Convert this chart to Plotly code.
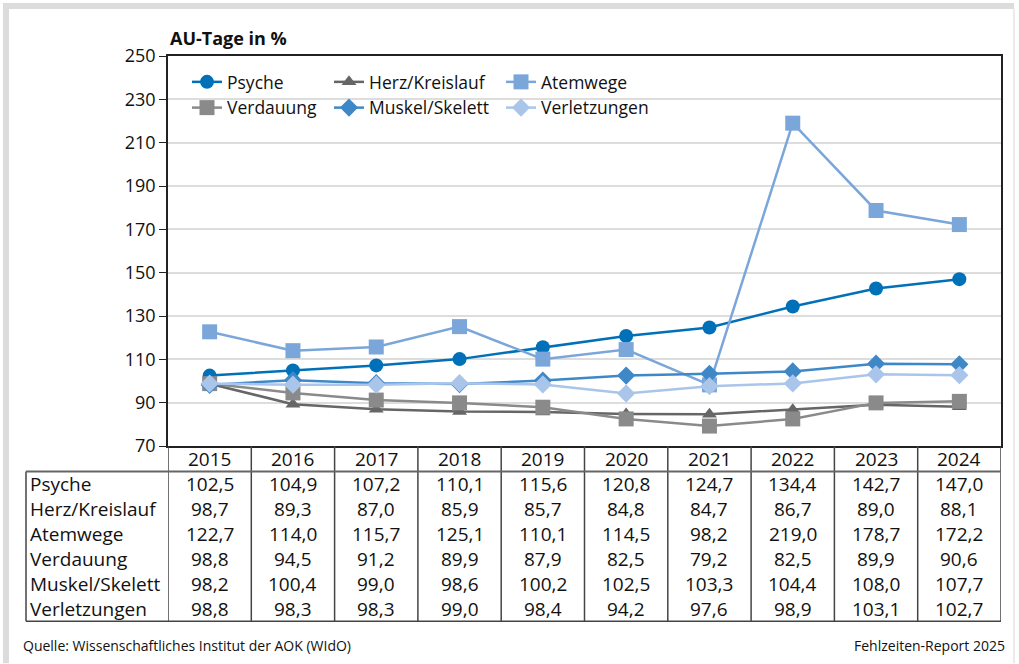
import plotly.graph_objects as go

years = ["2015", "2016", "2017", "2018", "2019", "2020", "2021", "2022", "2023", "2024"]
psyche = [102.5, 104.9, 107.2, 110.1, 115.6, 120.8, 124.7, 134.4, 142.7, 147.0]
herz = [98.7, 89.3, 87.0, 85.9, 85.7, 84.8, 84.7, 86.7, 89.0, 88.1]
atemwege = [122.7, 114.0, 115.7, 125.1, 110.1, 114.5, 98.2, 219.0, 178.7, 172.2]
verdauung = [98.8, 94.5, 91.2, 89.9, 87.9, 82.5, 79.2, 82.5, 89.9, 90.6]
muskel = [98.2, 100.4, 99.0, 98.6, 100.2, 102.5, 103.3, 104.4, 108.0, 107.7]
verletzungen = [98.8, 98.3, 98.3, 99.0, 98.4, 94.2, 97.6, 98.9, 103.1, 102.7]
y_ticks = [70, 90, 110, 130, 150, 170, 190, 210, 230, 250]

series = [
    ("Psyche", psyche, "#0071b9", "circle", 14, "legend"),
    ("Herz/Kreislauf", herz, "#666666", "triangle-up", 13, "legend2"),
    ("Atemwege", atemwege, "#7ba6da", "square", 15, "legend3"),
    ("Verdauung", verdauung, "#8a8a8a", "square", 15, "legend"),
    ("Muskel/Skelett", muskel, "#3f88c8", "diamond", 14, "legend2"),
    ("Verletzungen", verletzungen, "#a9c5ea", "diamond", 14, "legend3"),
]

FONT = "Open Sans"
W, H = 1019, 664
L, R, T, B = 168, 1001, 56, 446.5
PW, PH = R - L, B - T


def px(x):
    return (x - L) / PW


def py(y):
    return (B - y) / PH


fig = go.Figure()
for name, vals, color, sym, size, leg in series:
    fig.add_trace(go.Scatter(
        x=years, y=vals, name=name, mode="lines+markers",
        line=dict(color=color, width=2.5),
        marker=dict(symbol=sym, size=size, color=color, line=dict(width=0)),
        legend=leg,
    ))

shapes = []
# white area behind legend (covers gridlines)
shapes.append(dict(type="rect", xref="paper", yref="paper", x0=px(178), x1=px(655),
                   y0=py(120), y1=py(66), fillcolor="white", line=dict(width=0), layer="between"))
# outer frame
shapes.append(dict(type="rect", xref="paper", yref="paper", x0=px(3), x1=px(1014),
                   y0=py(3), y1=py(9), fillcolor="#dcdcdc", line=dict(width=0), layer="below"))
shapes.append(dict(type="rect", xref="paper", yref="paper", x0=px(3), x1=px(9),
                   y0=py(664), y1=py(3), fillcolor="#dcdcdc", line=dict(width=0), layer="below"))
shapes.append(dict(type="line", xref="paper", yref="paper", x0=px(1014), x1=px(1014),
                   y0=py(664), y1=py(9), line=dict(color="#e4e4e4", width=1.5)))

tbl_top_rows = 472
row_h = 25
tbl_bot = tbl_top_rows + 6 * row_h
lc = "#444444"
# vertical lines of the table (between year columns)
for i in range(len(years) + 1):
    shapes.append(dict(type="line", xref="x", yref="paper", x0=i - 0.5, x1=i - 0.5,
                       y0=py(B), y1=py(tbl_bot), line=dict(color=lc, width=1.5)))
# label column left border
shapes.append(dict(type="line", xref="paper", yref="paper", x0=px(26), x1=px(26),
                   y0=py(tbl_top_rows), y1=py(tbl_bot), line=dict(color=lc, width=1.5)))
# header bottom line and table bottom
shapes.append(dict(type="line", xref="paper", yref="paper", x0=px(26), x1=1,
                   y0=py(tbl_top_rows), y1=py(tbl_top_rows), line=dict(color="#666666", width=2)))
shapes.append(dict(type="line", xref="paper", yref="paper", x0=px(26), x1=1,
                   y0=py(tbl_bot), y1=py(tbl_bot), line=dict(color=lc, width=1.5)))

annotations = []
tf = dict(family=FONT, size=19, color="#111111")
for i, yr in enumerate(years):
    annotations.append(dict(x=i, xref="x", y=py(460), yref="paper", text=yr,
                            showarrow=False, font=tf, xanchor="center", yanchor="middle"))
for r, (name, vals, *_rest) in enumerate(series):
    yc = py(tbl_top_rows + row_h * r + row_h / 2)
    annotations.append(dict(x=px(28), xref="paper", y=yc, yref="paper", text=name,
                            showarrow=False, font=tf, xanchor="left", yanchor="middle"))
    for i, v in enumerate(vals):
        annotations.append(dict(x=i, xref="x", y=yc, yref="paper",
                                text=f"{v:.1f}".replace(".", ","),
                                showarrow=False, font=tf, xanchor="center", yanchor="middle"))

annotations.append(dict(x=0, xref="paper", y=py(38), yref="paper", text="<b>AU-Tage in %</b>",
                        showarrow=False, font=dict(family=FONT, size=18, color="#111111"),
                        xanchor="left", yanchor="middle"))
annotations.append(dict(x=px(21), xref="paper", y=py(646), yref="paper",
                        text="Quelle: Wissenschaftliches Institut der AOK (WIdO)",
                        showarrow=False, font=dict(family=FONT, size=14, color="#111111"),
                        xanchor="left", yanchor="middle"))
annotations.append(dict(x=px(1007), xref="paper", y=py(646), yref="paper",
                        text="Fehlzeiten-Report 2025",
                        showarrow=False, font=dict(family=FONT, size=14, color="#111111"),
                        xanchor="right", yanchor="middle"))

legfont = dict(family=FONT, size=17.5, color="#111111")
legcommon = dict(orientation="v", yanchor="top", y=py(64), xanchor="left",
                 bgcolor="rgba(0,0,0,0)", font=legfont, borderwidth=0, itemsizing="trace",
                 tracegroupgap=0)

fig.update_layout(
    width=W, height=H,
    margin=dict(l=L, r=W - R, t=T, b=H - B, pad=0),
    paper_bgcolor="white", plot_bgcolor="white",
    font=dict(family=FONT, size=18, color="#111111"),
    xaxis=dict(type="category", range=[-0.5, 9.5], showticklabels=False, ticks="",
               showgrid=False, showline=True, mirror=True, linecolor="#222222", linewidth=1.5,
               zeroline=False),
    yaxis=dict(range=[70, 250], tickvals=y_ticks, ticks="outside", ticklen=7, tickwidth=1.2,
               tickcolor="#222222", showgrid=True, gridcolor="#dddddd", gridwidth=1.5,
               showline=True, mirror=True, linecolor="#222222", linewidth=1.5, zeroline=False,
               tickfont=dict(family=FONT, size=18, color="#111111")),
    legend=dict(x=px(187), **legcommon),
    legend2=dict(x=px(329), **legcommon),
    legend3=dict(x=px(501), **legcommon),
    shapes=shapes,
    annotations=annotations,
    showlegend=True,
)

fig.write_html("out.html", config={"displayModeBar": False},
               post_script="document.body.style.margin='0px';")
